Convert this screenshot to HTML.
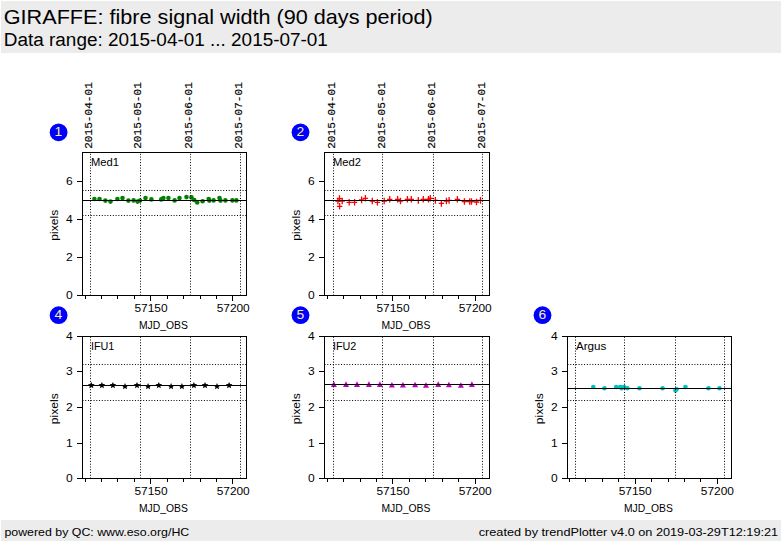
<!DOCTYPE html>
<html><head><meta charset="utf-8"><title>GIRAFFE fibre signal width</title>
<style>html,body{margin:0;padding:0;background:#fff;} svg{display:block;}</style></head>
<body><svg width="782" height="542" viewBox="0 0 782 542">
<rect x="0" y="0" width="782" height="542" fill="#fff"/>
<rect x="1" y="1" width="780" height="52" fill="#ececec"/>
<rect x="1" y="520" width="780" height="21" fill="#ececec"/>
<text x="3.80" y="23.50" style="font-family:&quot;Liberation Sans&quot;,sans-serif;font-size:20.60px" fill="#000" text-anchor="start" textLength="429.01" lengthAdjust="spacingAndGlyphs" >GIRAFFE: fibre signal width (90 days period)</text>
<text x="3.80" y="45.60" style="font-family:&quot;Liberation Sans&quot;,sans-serif;font-size:17.55px" fill="#000" text-anchor="start" textLength="324.11" lengthAdjust="spacingAndGlyphs" >Data range: 2015-04-01 ... 2015-07-01</text>
<text x="4.40" y="535.70" style="font-family:&quot;Liberation Sans&quot;,sans-serif;font-size:11.76px" fill="#000" text-anchor="start" textLength="184.89" lengthAdjust="spacingAndGlyphs" >powered by QC: www.eso.org/HC</text>
<text x="478.70" y="535.80" style="font-family:&quot;Liberation Sans&quot;,sans-serif;font-size:11.74px" fill="#000" text-anchor="start" textLength="299.44" lengthAdjust="spacingAndGlyphs" >created by trendPlotter v4.0 on 2019-03-29T12:19:21</text>
<circle cx="94.4" cy="199.0" r="2.3" fill="#008000"/>
<circle cx="99.5" cy="199" r="2.3" fill="#008000"/>
<circle cx="105.4" cy="200.6" r="2.3" fill="#008000"/>
<circle cx="110.5" cy="201.6" r="2.3" fill="#008000"/>
<circle cx="117.4" cy="199" r="2.3" fill="#008000"/>
<circle cx="122.5" cy="198.1" r="2.3" fill="#008000"/>
<circle cx="128.4" cy="200.6" r="2.3" fill="#008000"/>
<circle cx="133.6" cy="200.4" r="2.3" fill="#008000"/>
<circle cx="137.6" cy="201.6" r="2.3" fill="#008000"/>
<circle cx="140" cy="200.6" r="2.3" fill="#008000"/>
<circle cx="145.5" cy="198.1" r="2.3" fill="#008000"/>
<circle cx="151.4" cy="199.4" r="2.3" fill="#008000"/>
<circle cx="161.2" cy="199.4" r="2.3" fill="#008000"/>
<circle cx="163.4" cy="198.1" r="2.3" fill="#008000"/>
<circle cx="168.4" cy="198.1" r="2.3" fill="#008000"/>
<circle cx="174.6" cy="200.4" r="2.3" fill="#008000"/>
<circle cx="179.5" cy="198.1" r="2.3" fill="#008000"/>
<circle cx="186.5" cy="197.1" r="2.3" fill="#008000"/>
<circle cx="191.5" cy="197.4" r="2.3" fill="#008000"/>
<circle cx="194.2" cy="200" r="2.3" fill="#008000"/>
<circle cx="197.2" cy="202.4" r="2.3" fill="#008000"/>
<circle cx="202.6" cy="201.3" r="2.3" fill="#008000"/>
<circle cx="208.7" cy="199" r="2.3" fill="#008000"/>
<circle cx="209.3" cy="200.6" r="2.3" fill="#008000"/>
<circle cx="213.6" cy="200.4" r="2.3" fill="#008000"/>
<circle cx="219.5" cy="198.1" r="2.3" fill="#008000"/>
<circle cx="220.5" cy="200.6" r="2.3" fill="#008000"/>
<circle cx="225.4" cy="200.4" r="2.3" fill="#008000"/>
<circle cx="232.4" cy="200.4" r="2.3" fill="#008000"/>
<circle cx="236.4" cy="200.4" r="2.3" fill="#008000"/>
<line x1="90.5" y1="295.5" x2="90.5" y2="152" stroke="#000" stroke-width="1" stroke-dasharray="1 1.759"/>
<line x1="140.5" y1="295.5" x2="140.5" y2="152" stroke="#000" stroke-width="1" stroke-dasharray="1 1.759"/>
<line x1="190.5" y1="295.5" x2="190.5" y2="152" stroke="#000" stroke-width="1" stroke-dasharray="1 1.759"/>
<line x1="240.5" y1="295.5" x2="240.5" y2="152" stroke="#000" stroke-width="1" stroke-dasharray="1 1.759"/>
<line x1="82.5" y1="190.5" x2="246" y2="190.5" stroke="#000" stroke-width="1" stroke-dasharray="1 1.759"/>
<line x1="82.5" y1="215.5" x2="246" y2="215.5" stroke="#000" stroke-width="1" stroke-dasharray="1 1.759"/>
<line x1="83" y1="200.5" x2="246" y2="200.5" stroke="#000" stroke-width="1"/>
<rect x="82.5" y="152.5" width="164" height="143" fill="none" stroke="#000" stroke-width="1"/>
<line x1="77" y1="181.5" x2="82" y2="181.5" stroke="#000" stroke-width="1"/>
<text x="72.70" y="184.60" style="font-family:&quot;Liberation Sans&quot;,sans-serif;font-size:11.13px" fill="#000" text-anchor="end" textLength="6.68" lengthAdjust="spacingAndGlyphs" >6</text>
<line x1="77" y1="219.5" x2="82" y2="219.5" stroke="#000" stroke-width="1"/>
<text x="72.70" y="222.60" style="font-family:&quot;Liberation Sans&quot;,sans-serif;font-size:11.13px" fill="#000" text-anchor="end" textLength="6.68" lengthAdjust="spacingAndGlyphs" >4</text>
<line x1="77" y1="257.5" x2="82" y2="257.5" stroke="#000" stroke-width="1"/>
<text x="72.70" y="260.60" style="font-family:&quot;Liberation Sans&quot;,sans-serif;font-size:11.13px" fill="#000" text-anchor="end" textLength="6.68" lengthAdjust="spacingAndGlyphs" >2</text>
<line x1="77" y1="295.5" x2="82" y2="295.5" stroke="#000" stroke-width="1"/>
<text x="72.70" y="298.60" style="font-family:&quot;Liberation Sans&quot;,sans-serif;font-size:11.13px" fill="#000" text-anchor="end" textLength="6.68" lengthAdjust="spacingAndGlyphs" >0</text>
<line x1="85.5" y1="296" x2="85.5" y2="299" stroke="#000" stroke-width="1"/>
<line x1="101.5" y1="296" x2="101.5" y2="299" stroke="#000" stroke-width="1"/>
<line x1="117.5" y1="296" x2="117.5" y2="299" stroke="#000" stroke-width="1"/>
<line x1="134.5" y1="296" x2="134.5" y2="299" stroke="#000" stroke-width="1"/>
<line x1="150.5" y1="296" x2="150.5" y2="301" stroke="#000" stroke-width="1"/>
<line x1="167.5" y1="296" x2="167.5" y2="299" stroke="#000" stroke-width="1"/>
<line x1="183.5" y1="296" x2="183.5" y2="299" stroke="#000" stroke-width="1"/>
<line x1="200.5" y1="296" x2="200.5" y2="299" stroke="#000" stroke-width="1"/>
<line x1="216.5" y1="296" x2="216.5" y2="299" stroke="#000" stroke-width="1"/>
<line x1="232.5" y1="296" x2="232.5" y2="301" stroke="#000" stroke-width="1"/>
<text x="151.00" y="311.50" style="font-family:&quot;Liberation Sans&quot;,sans-serif;font-size:11.13px" fill="#000" text-anchor="middle" textLength="33.10" lengthAdjust="spacingAndGlyphs" >57150</text>
<text x="233.20" y="311.50" style="font-family:&quot;Liberation Sans&quot;,sans-serif;font-size:11.13px" fill="#000" text-anchor="middle" textLength="33.10" lengthAdjust="spacingAndGlyphs" >57200</text>
<text x="163.40" y="329.00" style="font-family:&quot;Liberation Sans&quot;,sans-serif;font-size:11.13px" fill="#000" text-anchor="middle" textLength="48.90" lengthAdjust="spacingAndGlyphs" >MJD_OBS</text>
<text x="0.00" y="0.00" style="font-family:&quot;Liberation Sans&quot;,sans-serif;font-size:11.13px" fill="#000" text-anchor="middle" textLength="31.00" lengthAdjust="spacingAndGlyphs" transform="translate(57.60,225.30) rotate(-90)">pixels</text>
<text x="90.90" y="165.80" style="font-family:&quot;Liberation Sans&quot;,sans-serif;font-size:10.68px" fill="#000" text-anchor="start" textLength="28.01" lengthAdjust="spacingAndGlyphs" >Med1</text>
<circle cx="58.6" cy="132.3" r="8.9" fill="#0000ff"/>
<text x="58.40" y="135.60" style="font-family:&quot;Liberation Sans&quot;,sans-serif;font-size:12.82px" fill="#f7f29a" text-anchor="middle" textLength="7.70" lengthAdjust="spacingAndGlyphs" >1</text>
<text x="0.00" y="0.00" style="font-family:&quot;Liberation Mono&quot;,monospace;font-size:11.50px" fill="#000" text-anchor="start" textLength="66.60" lengthAdjust="spacingAndGlyphs" transform="translate(92.20,148.8) rotate(-90)" stroke="#000" stroke-width="0.15">2015-04-01</text>
<text x="0.00" y="0.00" style="font-family:&quot;Liberation Mono&quot;,monospace;font-size:11.50px" fill="#000" text-anchor="start" textLength="66.60" lengthAdjust="spacingAndGlyphs" transform="translate(141.20,148.8) rotate(-90)" stroke="#000" stroke-width="0.15">2015-05-01</text>
<text x="0.00" y="0.00" style="font-family:&quot;Liberation Mono&quot;,monospace;font-size:11.50px" fill="#000" text-anchor="start" textLength="66.60" lengthAdjust="spacingAndGlyphs" transform="translate(192.20,148.8) rotate(-90)" stroke="#000" stroke-width="0.15">2015-06-01</text>
<text x="0.00" y="0.00" style="font-family:&quot;Liberation Mono&quot;,monospace;font-size:11.50px" fill="#000" text-anchor="start" textLength="66.60" lengthAdjust="spacingAndGlyphs" transform="translate(242.20,148.8) rotate(-90)" stroke="#000" stroke-width="0.15">2015-07-01</text>
<path d="M336.8,198.6H342.2M339.5,195.29999999999998V201.9" stroke="#ff0000" stroke-width="1.3" fill="none"/>
<path d="M336.90000000000003,206.3H342.3M339.6,203.0V209.60000000000002" stroke="#ff0000" stroke-width="1.3" fill="none"/>
<path d="M335.2,201H340.59999999999997M337.9,197.7V204.3" stroke="#ff0000" stroke-width="1.3" fill="none"/>
<path d="M339.5,201H344.9M342.2,197.7V204.3" stroke="#ff0000" stroke-width="1.3" fill="none"/>
<path d="M346.5,202.3H351.9M349.2,199.0V205.60000000000002" stroke="#ff0000" stroke-width="1.3" fill="none"/>
<path d="M351.90000000000003,202.3H357.3M354.6,199.0V205.60000000000002" stroke="#ff0000" stroke-width="1.3" fill="none"/>
<path d="M358.90000000000003,199.9H364.3M361.6,196.6V203.20000000000002" stroke="#ff0000" stroke-width="1.3" fill="none"/>
<path d="M362.7,198.3H368.09999999999997M365.4,195.0V201.60000000000002" stroke="#ff0000" stroke-width="1.3" fill="none"/>
<path d="M369.6,201H375.0M372.3,197.7V204.3" stroke="#ff0000" stroke-width="1.3" fill="none"/>
<path d="M374.7,202.3H380.09999999999997M377.4,199.0V205.60000000000002" stroke="#ff0000" stroke-width="1.3" fill="none"/>
<path d="M381.5,201H386.9M384.2,197.7V204.3" stroke="#ff0000" stroke-width="1.3" fill="none"/>
<path d="M387.0,199.3H392.4M389.7,196.0V202.60000000000002" stroke="#ff0000" stroke-width="1.3" fill="none"/>
<path d="M394.90000000000003,199.3H400.3M397.6,196.0V202.60000000000002" stroke="#ff0000" stroke-width="1.3" fill="none"/>
<path d="M397.8,201H403.2M400.5,197.7V204.3" stroke="#ff0000" stroke-width="1.3" fill="none"/>
<path d="M404.7,199.3H410.09999999999997M407.4,196.0V202.60000000000002" stroke="#ff0000" stroke-width="1.3" fill="none"/>
<path d="M408.6,199.3H414.0M411.3,196.0V202.60000000000002" stroke="#ff0000" stroke-width="1.3" fill="none"/>
<path d="M415.6,200.4H421.0M418.3,197.1V203.70000000000002" stroke="#ff0000" stroke-width="1.3" fill="none"/>
<path d="M420.6,199.3H426.0M423.3,196.0V202.60000000000002" stroke="#ff0000" stroke-width="1.3" fill="none"/>
<path d="M425.8,199.3H431.2M428.5,196.0V202.60000000000002" stroke="#ff0000" stroke-width="1.3" fill="none"/>
<path d="M427.6,198.3H433.0M430.3,195.0V201.60000000000002" stroke="#ff0000" stroke-width="1.3" fill="none"/>
<path d="M432.7,200.4H438.09999999999997M435.4,197.1V203.70000000000002" stroke="#ff0000" stroke-width="1.3" fill="none"/>
<path d="M438.7,203.4H444.09999999999997M441.4,200.1V206.70000000000002" stroke="#ff0000" stroke-width="1.3" fill="none"/>
<path d="M443.7,201H449.09999999999997M446.4,197.7V204.3" stroke="#ff0000" stroke-width="1.3" fill="none"/>
<path d="M446.40000000000003,200.4H451.8M449.1,197.1V203.70000000000002" stroke="#ff0000" stroke-width="1.3" fill="none"/>
<path d="M454.7,199.3H460.09999999999997M457.4,196.0V202.60000000000002" stroke="#ff0000" stroke-width="1.3" fill="none"/>
<path d="M461.7,201.5H467.09999999999997M464.4,198.2V204.8" stroke="#ff0000" stroke-width="1.3" fill="none"/>
<path d="M467.0,201.5H472.4M469.7,198.2V204.8" stroke="#ff0000" stroke-width="1.3" fill="none"/>
<path d="M468.8,201.5H474.2M471.5,198.2V204.8" stroke="#ff0000" stroke-width="1.3" fill="none"/>
<path d="M473.8,202H479.2M476.5,198.7V205.3" stroke="#ff0000" stroke-width="1.3" fill="none"/>
<path d="M477.8,200.4H483.2M480.5,197.1V203.70000000000002" stroke="#ff0000" stroke-width="1.3" fill="none"/>
<line x1="333.5" y1="295.5" x2="333.5" y2="152" stroke="#000" stroke-width="1" stroke-dasharray="1 1.759"/>
<line x1="382.5" y1="295.5" x2="382.5" y2="152" stroke="#000" stroke-width="1" stroke-dasharray="1 1.759"/>
<line x1="433.5" y1="295.5" x2="433.5" y2="152" stroke="#000" stroke-width="1" stroke-dasharray="1 1.759"/>
<line x1="482.5" y1="295.5" x2="482.5" y2="152" stroke="#000" stroke-width="1" stroke-dasharray="1 1.759"/>
<line x1="324.5" y1="190.5" x2="489" y2="190.5" stroke="#000" stroke-width="1" stroke-dasharray="1 1.759"/>
<line x1="324.5" y1="215.5" x2="489" y2="215.5" stroke="#000" stroke-width="1" stroke-dasharray="1 1.759"/>
<line x1="325" y1="200.5" x2="489" y2="200.5" stroke="#000" stroke-width="1"/>
<rect x="324.5" y="152.5" width="165" height="143" fill="none" stroke="#000" stroke-width="1"/>
<line x1="319" y1="181.5" x2="324" y2="181.5" stroke="#000" stroke-width="1"/>
<text x="314.70" y="184.60" style="font-family:&quot;Liberation Sans&quot;,sans-serif;font-size:11.13px" fill="#000" text-anchor="end" textLength="6.68" lengthAdjust="spacingAndGlyphs" >6</text>
<line x1="319" y1="219.5" x2="324" y2="219.5" stroke="#000" stroke-width="1"/>
<text x="314.70" y="222.60" style="font-family:&quot;Liberation Sans&quot;,sans-serif;font-size:11.13px" fill="#000" text-anchor="end" textLength="6.68" lengthAdjust="spacingAndGlyphs" >4</text>
<line x1="319" y1="257.5" x2="324" y2="257.5" stroke="#000" stroke-width="1"/>
<text x="314.70" y="260.60" style="font-family:&quot;Liberation Sans&quot;,sans-serif;font-size:11.13px" fill="#000" text-anchor="end" textLength="6.68" lengthAdjust="spacingAndGlyphs" >2</text>
<line x1="319" y1="295.5" x2="324" y2="295.5" stroke="#000" stroke-width="1"/>
<text x="314.70" y="298.60" style="font-family:&quot;Liberation Sans&quot;,sans-serif;font-size:11.13px" fill="#000" text-anchor="end" textLength="6.68" lengthAdjust="spacingAndGlyphs" >0</text>
<line x1="327.5" y1="296" x2="327.5" y2="299" stroke="#000" stroke-width="1"/>
<line x1="343.5" y1="296" x2="343.5" y2="299" stroke="#000" stroke-width="1"/>
<line x1="360.5" y1="296" x2="360.5" y2="299" stroke="#000" stroke-width="1"/>
<line x1="376.5" y1="296" x2="376.5" y2="299" stroke="#000" stroke-width="1"/>
<line x1="392.5" y1="296" x2="392.5" y2="301" stroke="#000" stroke-width="1"/>
<line x1="409.5" y1="296" x2="409.5" y2="299" stroke="#000" stroke-width="1"/>
<line x1="425.5" y1="296" x2="425.5" y2="299" stroke="#000" stroke-width="1"/>
<line x1="442.5" y1="296" x2="442.5" y2="299" stroke="#000" stroke-width="1"/>
<line x1="458.5" y1="296" x2="458.5" y2="299" stroke="#000" stroke-width="1"/>
<line x1="475.5" y1="296" x2="475.5" y2="301" stroke="#000" stroke-width="1"/>
<text x="393.00" y="311.50" style="font-family:&quot;Liberation Sans&quot;,sans-serif;font-size:11.13px" fill="#000" text-anchor="middle" textLength="33.10" lengthAdjust="spacingAndGlyphs" >57150</text>
<text x="475.20" y="311.50" style="font-family:&quot;Liberation Sans&quot;,sans-serif;font-size:11.13px" fill="#000" text-anchor="middle" textLength="33.10" lengthAdjust="spacingAndGlyphs" >57200</text>
<text x="405.90" y="329.00" style="font-family:&quot;Liberation Sans&quot;,sans-serif;font-size:11.13px" fill="#000" text-anchor="middle" textLength="48.90" lengthAdjust="spacingAndGlyphs" >MJD_OBS</text>
<text x="0.00" y="0.00" style="font-family:&quot;Liberation Sans&quot;,sans-serif;font-size:11.13px" fill="#000" text-anchor="middle" textLength="31.00" lengthAdjust="spacingAndGlyphs" transform="translate(299.60,225.30) rotate(-90)">pixels</text>
<text x="332.90" y="165.80" style="font-family:&quot;Liberation Sans&quot;,sans-serif;font-size:10.68px" fill="#000" text-anchor="start" textLength="28.01" lengthAdjust="spacingAndGlyphs" >Med2</text>
<circle cx="300.5" cy="132.3" r="8.9" fill="#0000ff"/>
<text x="300.30" y="135.60" style="font-family:&quot;Liberation Sans&quot;,sans-serif;font-size:12.82px" fill="#f7f29a" text-anchor="middle" textLength="7.70" lengthAdjust="spacingAndGlyphs" >2</text>
<text x="0.00" y="0.00" style="font-family:&quot;Liberation Mono&quot;,monospace;font-size:11.50px" fill="#000" text-anchor="start" textLength="66.60" lengthAdjust="spacingAndGlyphs" transform="translate(335.20,148.8) rotate(-90)" stroke="#000" stroke-width="0.15">2015-04-01</text>
<text x="0.00" y="0.00" style="font-family:&quot;Liberation Mono&quot;,monospace;font-size:11.50px" fill="#000" text-anchor="start" textLength="66.60" lengthAdjust="spacingAndGlyphs" transform="translate(385.20,148.8) rotate(-90)" stroke="#000" stroke-width="0.15">2015-05-01</text>
<text x="0.00" y="0.00" style="font-family:&quot;Liberation Mono&quot;,monospace;font-size:11.50px" fill="#000" text-anchor="start" textLength="66.60" lengthAdjust="spacingAndGlyphs" transform="translate(435.20,148.8) rotate(-90)" stroke="#000" stroke-width="0.15">2015-06-01</text>
<text x="0.00" y="0.00" style="font-family:&quot;Liberation Mono&quot;,monospace;font-size:11.50px" fill="#000" text-anchor="start" textLength="66.60" lengthAdjust="spacingAndGlyphs" transform="translate(485.20,148.8) rotate(-90)" stroke="#000" stroke-width="0.15">2015-07-01</text>
<polygon points="91.30,381.50 92.24,383.71 94.63,383.92 92.82,385.49 93.36,387.83 91.30,386.60 89.24,387.83 89.78,385.49 87.97,383.92 90.36,383.71" fill="#000000" transform="translate(0,0.4)"/>
<polygon points="101.90,381.50 102.84,383.71 105.23,383.92 103.42,385.49 103.96,387.83 101.90,386.60 99.84,387.83 100.38,385.49 98.57,383.92 100.96,383.71" fill="#000000" transform="translate(0,0.4)"/>
<polygon points="112.90,381.50 113.84,383.71 116.23,383.92 114.42,385.49 114.96,387.83 112.90,386.60 110.84,387.83 111.38,385.49 109.57,383.92 111.96,383.71" fill="#000000" transform="translate(0,0.4)"/>
<polygon points="125.00,382.60 125.94,384.81 128.33,385.02 126.52,386.59 127.06,388.93 125.00,387.70 122.94,388.93 123.48,386.59 121.67,385.02 124.06,384.81" fill="#000000" transform="translate(0,0.4)"/>
<polygon points="137.00,381.50 137.94,383.71 140.33,383.92 138.52,385.49 139.06,387.83 137.00,386.60 134.94,387.83 135.48,385.49 133.67,383.92 136.06,383.71" fill="#000000" transform="translate(0,0.4)"/>
<polygon points="148.10,382.60 149.04,384.81 151.43,385.02 149.62,386.59 150.16,388.93 148.10,387.70 146.04,388.93 146.58,386.59 144.77,385.02 147.16,384.81" fill="#000000" transform="translate(0,0.4)"/>
<polygon points="158.80,381.50 159.74,383.71 162.13,383.92 160.32,385.49 160.86,387.83 158.80,386.60 156.74,387.83 157.28,385.49 155.47,383.92 157.86,383.71" fill="#000000" transform="translate(0,0.4)"/>
<polygon points="171.10,382.60 172.04,384.81 174.43,385.02 172.62,386.59 173.16,388.93 171.10,387.70 169.04,388.93 169.58,386.59 167.77,385.02 170.16,384.81" fill="#000000" transform="translate(0,0.4)"/>
<polygon points="181.90,382.60 182.84,384.81 185.23,385.02 183.42,386.59 183.96,388.93 181.90,387.70 179.84,388.93 180.38,386.59 178.57,385.02 180.96,384.81" fill="#000000" transform="translate(0,0.4)"/>
<polygon points="193.90,381.50 194.84,383.71 197.23,383.92 195.42,385.49 195.96,387.83 193.90,386.60 191.84,387.83 192.38,385.49 190.57,383.92 192.96,383.71" fill="#000000" transform="translate(0,0.4)"/>
<polygon points="205.00,381.50 205.94,383.71 208.33,383.92 206.52,385.49 207.06,387.83 205.00,386.60 202.94,387.83 203.48,385.49 201.67,383.92 204.06,383.71" fill="#000000" transform="translate(0,0.4)"/>
<polygon points="217.00,382.60 217.94,384.81 220.33,385.02 218.52,386.59 219.06,388.93 217.00,387.70 214.94,388.93 215.48,386.59 213.67,385.02 216.06,384.81" fill="#000000" transform="translate(0,0.4)"/>
<polygon points="229.10,381.50 230.04,383.71 232.43,383.92 230.62,385.49 231.16,387.83 229.10,386.60 227.04,387.83 227.58,385.49 225.77,383.92 228.16,383.71" fill="#000000" transform="translate(0,0.4)"/>
<line x1="90.5" y1="478.5" x2="90.5" y2="336" stroke="#000" stroke-width="1" stroke-dasharray="1 1.759"/>
<line x1="140.5" y1="478.5" x2="140.5" y2="336" stroke="#000" stroke-width="1" stroke-dasharray="1 1.759"/>
<line x1="190.5" y1="478.5" x2="190.5" y2="336" stroke="#000" stroke-width="1" stroke-dasharray="1 1.759"/>
<line x1="240.5" y1="478.5" x2="240.5" y2="336" stroke="#000" stroke-width="1" stroke-dasharray="1 1.759"/>
<line x1="82.5" y1="364.5" x2="246" y2="364.5" stroke="#000" stroke-width="1" stroke-dasharray="1 1.759"/>
<line x1="82.5" y1="400.5" x2="246" y2="400.5" stroke="#000" stroke-width="1" stroke-dasharray="1 1.759"/>
<line x1="83" y1="385.5" x2="246" y2="385.5" stroke="#000" stroke-width="1"/>
<rect x="82.5" y="336.5" width="164" height="142" fill="none" stroke="#000" stroke-width="1"/>
<line x1="77" y1="336.5" x2="82" y2="336.5" stroke="#000" stroke-width="1"/>
<text x="72.70" y="339.60" style="font-family:&quot;Liberation Sans&quot;,sans-serif;font-size:11.13px" fill="#000" text-anchor="end" textLength="6.68" lengthAdjust="spacingAndGlyphs" >4</text>
<line x1="77" y1="371.5" x2="82" y2="371.5" stroke="#000" stroke-width="1"/>
<text x="72.70" y="374.60" style="font-family:&quot;Liberation Sans&quot;,sans-serif;font-size:11.13px" fill="#000" text-anchor="end" textLength="6.68" lengthAdjust="spacingAndGlyphs" >3</text>
<line x1="77" y1="407.5" x2="82" y2="407.5" stroke="#000" stroke-width="1"/>
<text x="72.70" y="410.60" style="font-family:&quot;Liberation Sans&quot;,sans-serif;font-size:11.13px" fill="#000" text-anchor="end" textLength="6.68" lengthAdjust="spacingAndGlyphs" >2</text>
<line x1="77" y1="443.5" x2="82" y2="443.5" stroke="#000" stroke-width="1"/>
<text x="72.70" y="446.60" style="font-family:&quot;Liberation Sans&quot;,sans-serif;font-size:11.13px" fill="#000" text-anchor="end" textLength="6.68" lengthAdjust="spacingAndGlyphs" >1</text>
<line x1="77" y1="478.5" x2="82" y2="478.5" stroke="#000" stroke-width="1"/>
<text x="72.70" y="481.60" style="font-family:&quot;Liberation Sans&quot;,sans-serif;font-size:11.13px" fill="#000" text-anchor="end" textLength="6.68" lengthAdjust="spacingAndGlyphs" >0</text>
<line x1="85.5" y1="479" x2="85.5" y2="482" stroke="#000" stroke-width="1"/>
<line x1="101.5" y1="479" x2="101.5" y2="482" stroke="#000" stroke-width="1"/>
<line x1="117.5" y1="479" x2="117.5" y2="482" stroke="#000" stroke-width="1"/>
<line x1="134.5" y1="479" x2="134.5" y2="482" stroke="#000" stroke-width="1"/>
<line x1="150.5" y1="479" x2="150.5" y2="484" stroke="#000" stroke-width="1"/>
<line x1="167.5" y1="479" x2="167.5" y2="482" stroke="#000" stroke-width="1"/>
<line x1="183.5" y1="479" x2="183.5" y2="482" stroke="#000" stroke-width="1"/>
<line x1="200.5" y1="479" x2="200.5" y2="482" stroke="#000" stroke-width="1"/>
<line x1="216.5" y1="479" x2="216.5" y2="482" stroke="#000" stroke-width="1"/>
<line x1="232.5" y1="479" x2="232.5" y2="484" stroke="#000" stroke-width="1"/>
<text x="151.00" y="494.50" style="font-family:&quot;Liberation Sans&quot;,sans-serif;font-size:11.13px" fill="#000" text-anchor="middle" textLength="33.10" lengthAdjust="spacingAndGlyphs" >57150</text>
<text x="233.20" y="494.50" style="font-family:&quot;Liberation Sans&quot;,sans-serif;font-size:11.13px" fill="#000" text-anchor="middle" textLength="33.10" lengthAdjust="spacingAndGlyphs" >57200</text>
<text x="163.40" y="512.00" style="font-family:&quot;Liberation Sans&quot;,sans-serif;font-size:11.13px" fill="#000" text-anchor="middle" textLength="48.90" lengthAdjust="spacingAndGlyphs" >MJD_OBS</text>
<text x="0.00" y="0.00" style="font-family:&quot;Liberation Sans&quot;,sans-serif;font-size:11.13px" fill="#000" text-anchor="middle" textLength="31.00" lengthAdjust="spacingAndGlyphs" transform="translate(57.60,408.80) rotate(-90)">pixels</text>
<text x="90.90" y="349.80" style="font-family:&quot;Liberation Sans&quot;,sans-serif;font-size:10.68px" fill="#000" text-anchor="start" textLength="23.36" lengthAdjust="spacingAndGlyphs" >IFU1</text>
<circle cx="58.6" cy="315.2" r="8.9" fill="#0000ff"/>
<text x="58.40" y="318.50" style="font-family:&quot;Liberation Sans&quot;,sans-serif;font-size:12.82px" fill="#f7f29a" text-anchor="middle" textLength="7.70" lengthAdjust="spacingAndGlyphs" >4</text>
<polygon points="333.9,381.3 336.9,386.90000000000003 330.9,386.90000000000003" fill="#bf00bf"/>
<polygon points="346,381.3 349.0,386.90000000000003 343.0,386.90000000000003" fill="#bf00bf"/>
<polygon points="357,381.3 360.0,386.90000000000003 354.0,386.90000000000003" fill="#bf00bf"/>
<polygon points="368.9,381.3 371.9,386.90000000000003 365.9,386.90000000000003" fill="#bf00bf"/>
<polygon points="379.9,381.3 382.9,386.90000000000003 376.9,386.90000000000003" fill="#bf00bf"/>
<polygon points="391.9,382.0 394.9,387.6 388.9,387.6" fill="#bf00bf"/>
<polygon points="402.9,382.0 405.9,387.6 399.9,387.6" fill="#bf00bf"/>
<polygon points="415.1,381.7 418.1,387.3 412.1,387.3" fill="#bf00bf"/>
<polygon points="426,382.2 429.0,387.8 423.0,387.8" fill="#bf00bf"/>
<polygon points="438.2,381.3 441.2,386.90000000000003 435.2,386.90000000000003" fill="#bf00bf"/>
<polygon points="448.9,381.7 451.9,387.3 445.9,387.3" fill="#bf00bf"/>
<polygon points="460.9,382.2 463.9,387.8 457.9,387.8" fill="#bf00bf"/>
<polygon points="471.9,381.3 474.9,386.90000000000003 468.9,386.90000000000003" fill="#bf00bf"/>
<line x1="333.5" y1="478.5" x2="333.5" y2="336" stroke="#000" stroke-width="1" stroke-dasharray="1 1.759"/>
<line x1="382.5" y1="478.5" x2="382.5" y2="336" stroke="#000" stroke-width="1" stroke-dasharray="1 1.759"/>
<line x1="433.5" y1="478.5" x2="433.5" y2="336" stroke="#000" stroke-width="1" stroke-dasharray="1 1.759"/>
<line x1="482.5" y1="478.5" x2="482.5" y2="336" stroke="#000" stroke-width="1" stroke-dasharray="1 1.759"/>
<line x1="324.5" y1="364.5" x2="489" y2="364.5" stroke="#000" stroke-width="1" stroke-dasharray="1 1.759"/>
<line x1="324.5" y1="400.5" x2="489" y2="400.5" stroke="#000" stroke-width="1" stroke-dasharray="1 1.759"/>
<line x1="325" y1="384.5" x2="489" y2="384.5" stroke="#000" stroke-width="1"/>
<rect x="324.5" y="336.5" width="165" height="142" fill="none" stroke="#000" stroke-width="1"/>
<line x1="319" y1="336.5" x2="324" y2="336.5" stroke="#000" stroke-width="1"/>
<text x="314.70" y="339.60" style="font-family:&quot;Liberation Sans&quot;,sans-serif;font-size:11.13px" fill="#000" text-anchor="end" textLength="6.68" lengthAdjust="spacingAndGlyphs" >4</text>
<line x1="319" y1="371.5" x2="324" y2="371.5" stroke="#000" stroke-width="1"/>
<text x="314.70" y="374.60" style="font-family:&quot;Liberation Sans&quot;,sans-serif;font-size:11.13px" fill="#000" text-anchor="end" textLength="6.68" lengthAdjust="spacingAndGlyphs" >3</text>
<line x1="319" y1="407.5" x2="324" y2="407.5" stroke="#000" stroke-width="1"/>
<text x="314.70" y="410.60" style="font-family:&quot;Liberation Sans&quot;,sans-serif;font-size:11.13px" fill="#000" text-anchor="end" textLength="6.68" lengthAdjust="spacingAndGlyphs" >2</text>
<line x1="319" y1="443.5" x2="324" y2="443.5" stroke="#000" stroke-width="1"/>
<text x="314.70" y="446.60" style="font-family:&quot;Liberation Sans&quot;,sans-serif;font-size:11.13px" fill="#000" text-anchor="end" textLength="6.68" lengthAdjust="spacingAndGlyphs" >1</text>
<line x1="319" y1="478.5" x2="324" y2="478.5" stroke="#000" stroke-width="1"/>
<text x="314.70" y="481.60" style="font-family:&quot;Liberation Sans&quot;,sans-serif;font-size:11.13px" fill="#000" text-anchor="end" textLength="6.68" lengthAdjust="spacingAndGlyphs" >0</text>
<line x1="327.5" y1="479" x2="327.5" y2="482" stroke="#000" stroke-width="1"/>
<line x1="343.5" y1="479" x2="343.5" y2="482" stroke="#000" stroke-width="1"/>
<line x1="360.5" y1="479" x2="360.5" y2="482" stroke="#000" stroke-width="1"/>
<line x1="376.5" y1="479" x2="376.5" y2="482" stroke="#000" stroke-width="1"/>
<line x1="392.5" y1="479" x2="392.5" y2="484" stroke="#000" stroke-width="1"/>
<line x1="409.5" y1="479" x2="409.5" y2="482" stroke="#000" stroke-width="1"/>
<line x1="425.5" y1="479" x2="425.5" y2="482" stroke="#000" stroke-width="1"/>
<line x1="442.5" y1="479" x2="442.5" y2="482" stroke="#000" stroke-width="1"/>
<line x1="458.5" y1="479" x2="458.5" y2="482" stroke="#000" stroke-width="1"/>
<line x1="475.5" y1="479" x2="475.5" y2="484" stroke="#000" stroke-width="1"/>
<text x="393.00" y="494.50" style="font-family:&quot;Liberation Sans&quot;,sans-serif;font-size:11.13px" fill="#000" text-anchor="middle" textLength="33.10" lengthAdjust="spacingAndGlyphs" >57150</text>
<text x="475.20" y="494.50" style="font-family:&quot;Liberation Sans&quot;,sans-serif;font-size:11.13px" fill="#000" text-anchor="middle" textLength="33.10" lengthAdjust="spacingAndGlyphs" >57200</text>
<text x="405.90" y="512.00" style="font-family:&quot;Liberation Sans&quot;,sans-serif;font-size:11.13px" fill="#000" text-anchor="middle" textLength="48.90" lengthAdjust="spacingAndGlyphs" >MJD_OBS</text>
<text x="0.00" y="0.00" style="font-family:&quot;Liberation Sans&quot;,sans-serif;font-size:11.13px" fill="#000" text-anchor="middle" textLength="31.00" lengthAdjust="spacingAndGlyphs" transform="translate(299.60,408.80) rotate(-90)">pixels</text>
<text x="332.90" y="349.80" style="font-family:&quot;Liberation Sans&quot;,sans-serif;font-size:10.68px" fill="#000" text-anchor="start" textLength="23.36" lengthAdjust="spacingAndGlyphs" >IFU2</text>
<circle cx="300.5" cy="315.2" r="8.9" fill="#0000ff"/>
<text x="300.30" y="318.50" style="font-family:&quot;Liberation Sans&quot;,sans-serif;font-size:12.82px" fill="#f7f29a" text-anchor="middle" textLength="7.70" lengthAdjust="spacingAndGlyphs" >5</text>
<circle cx="593.3" cy="387" r="2.3" fill="#00bfbf"/>
<circle cx="604.4" cy="388.3" r="2.3" fill="#00bfbf"/>
<circle cx="616.2" cy="387" r="2.3" fill="#00bfbf"/>
<circle cx="620.2" cy="387" r="2.3" fill="#00bfbf"/>
<circle cx="621.6" cy="388.3" r="2.3" fill="#00bfbf"/>
<circle cx="624" cy="387" r="2.3" fill="#00bfbf"/>
<circle cx="627.4" cy="388.3" r="2.3" fill="#00bfbf"/>
<circle cx="639.5" cy="388.3" r="2.3" fill="#00bfbf"/>
<circle cx="662.6" cy="388.3" r="2.3" fill="#00bfbf"/>
<circle cx="675.5" cy="390.4" r="2.3" fill="#00bfbf"/>
<circle cx="676.5" cy="389.2" r="2.3" fill="#00bfbf"/>
<circle cx="685.5" cy="387" r="2.3" fill="#00bfbf"/>
<circle cx="708.4" cy="388.3" r="2.3" fill="#00bfbf"/>
<circle cx="719.5" cy="388.3" r="2.3" fill="#00bfbf"/>
<line x1="575.5" y1="478.5" x2="575.5" y2="336" stroke="#000" stroke-width="1" stroke-dasharray="1 1.759"/>
<line x1="624.5" y1="478.5" x2="624.5" y2="336" stroke="#000" stroke-width="1" stroke-dasharray="1 1.759"/>
<line x1="675.5" y1="478.5" x2="675.5" y2="336" stroke="#000" stroke-width="1" stroke-dasharray="1 1.759"/>
<line x1="724.5" y1="478.5" x2="724.5" y2="336" stroke="#000" stroke-width="1" stroke-dasharray="1 1.759"/>
<line x1="567.5" y1="364.5" x2="731" y2="364.5" stroke="#000" stroke-width="1" stroke-dasharray="1 1.759"/>
<line x1="567.5" y1="400.5" x2="731" y2="400.5" stroke="#000" stroke-width="1" stroke-dasharray="1 1.759"/>
<line x1="568" y1="388.5" x2="731" y2="388.5" stroke="#000" stroke-width="1"/>
<rect x="567.5" y="336.5" width="164" height="142" fill="none" stroke="#000" stroke-width="1"/>
<line x1="562" y1="336.5" x2="567" y2="336.5" stroke="#000" stroke-width="1"/>
<text x="557.70" y="339.60" style="font-family:&quot;Liberation Sans&quot;,sans-serif;font-size:11.13px" fill="#000" text-anchor="end" textLength="6.68" lengthAdjust="spacingAndGlyphs" >4</text>
<line x1="562" y1="371.5" x2="567" y2="371.5" stroke="#000" stroke-width="1"/>
<text x="557.70" y="374.60" style="font-family:&quot;Liberation Sans&quot;,sans-serif;font-size:11.13px" fill="#000" text-anchor="end" textLength="6.68" lengthAdjust="spacingAndGlyphs" >3</text>
<line x1="562" y1="407.5" x2="567" y2="407.5" stroke="#000" stroke-width="1"/>
<text x="557.70" y="410.60" style="font-family:&quot;Liberation Sans&quot;,sans-serif;font-size:11.13px" fill="#000" text-anchor="end" textLength="6.68" lengthAdjust="spacingAndGlyphs" >2</text>
<line x1="562" y1="443.5" x2="567" y2="443.5" stroke="#000" stroke-width="1"/>
<text x="557.70" y="446.60" style="font-family:&quot;Liberation Sans&quot;,sans-serif;font-size:11.13px" fill="#000" text-anchor="end" textLength="6.68" lengthAdjust="spacingAndGlyphs" >1</text>
<line x1="562" y1="478.5" x2="567" y2="478.5" stroke="#000" stroke-width="1"/>
<text x="557.70" y="481.60" style="font-family:&quot;Liberation Sans&quot;,sans-serif;font-size:11.13px" fill="#000" text-anchor="end" textLength="6.68" lengthAdjust="spacingAndGlyphs" >0</text>
<line x1="569.5" y1="479" x2="569.5" y2="482" stroke="#000" stroke-width="1"/>
<line x1="585.5" y1="479" x2="585.5" y2="482" stroke="#000" stroke-width="1"/>
<line x1="602.5" y1="479" x2="602.5" y2="482" stroke="#000" stroke-width="1"/>
<line x1="618.5" y1="479" x2="618.5" y2="482" stroke="#000" stroke-width="1"/>
<line x1="635.5" y1="479" x2="635.5" y2="484" stroke="#000" stroke-width="1"/>
<line x1="651.5" y1="479" x2="651.5" y2="482" stroke="#000" stroke-width="1"/>
<line x1="668.5" y1="479" x2="668.5" y2="482" stroke="#000" stroke-width="1"/>
<line x1="684.5" y1="479" x2="684.5" y2="482" stroke="#000" stroke-width="1"/>
<line x1="700.5" y1="479" x2="700.5" y2="482" stroke="#000" stroke-width="1"/>
<line x1="717.5" y1="479" x2="717.5" y2="484" stroke="#000" stroke-width="1"/>
<text x="635.20" y="494.50" style="font-family:&quot;Liberation Sans&quot;,sans-serif;font-size:11.13px" fill="#000" text-anchor="middle" textLength="33.10" lengthAdjust="spacingAndGlyphs" >57150</text>
<text x="717.40" y="494.50" style="font-family:&quot;Liberation Sans&quot;,sans-serif;font-size:11.13px" fill="#000" text-anchor="middle" textLength="33.10" lengthAdjust="spacingAndGlyphs" >57200</text>
<text x="648.40" y="512.00" style="font-family:&quot;Liberation Sans&quot;,sans-serif;font-size:11.13px" fill="#000" text-anchor="middle" textLength="48.90" lengthAdjust="spacingAndGlyphs" >MJD_OBS</text>
<text x="0.00" y="0.00" style="font-family:&quot;Liberation Sans&quot;,sans-serif;font-size:11.13px" fill="#000" text-anchor="middle" textLength="31.00" lengthAdjust="spacingAndGlyphs" transform="translate(542.60,408.80) rotate(-90)">pixels</text>
<text x="575.90" y="349.80" style="font-family:&quot;Liberation Sans&quot;,sans-serif;font-size:10.68px" fill="#000" text-anchor="start" textLength="30.40" lengthAdjust="spacingAndGlyphs" >Argus</text>
<circle cx="542.5" cy="315.2" r="8.9" fill="#0000ff"/>
<text x="542.30" y="318.50" style="font-family:&quot;Liberation Sans&quot;,sans-serif;font-size:12.82px" fill="#f7f29a" text-anchor="middle" textLength="7.70" lengthAdjust="spacingAndGlyphs" >6</text>
</svg></body></html>
